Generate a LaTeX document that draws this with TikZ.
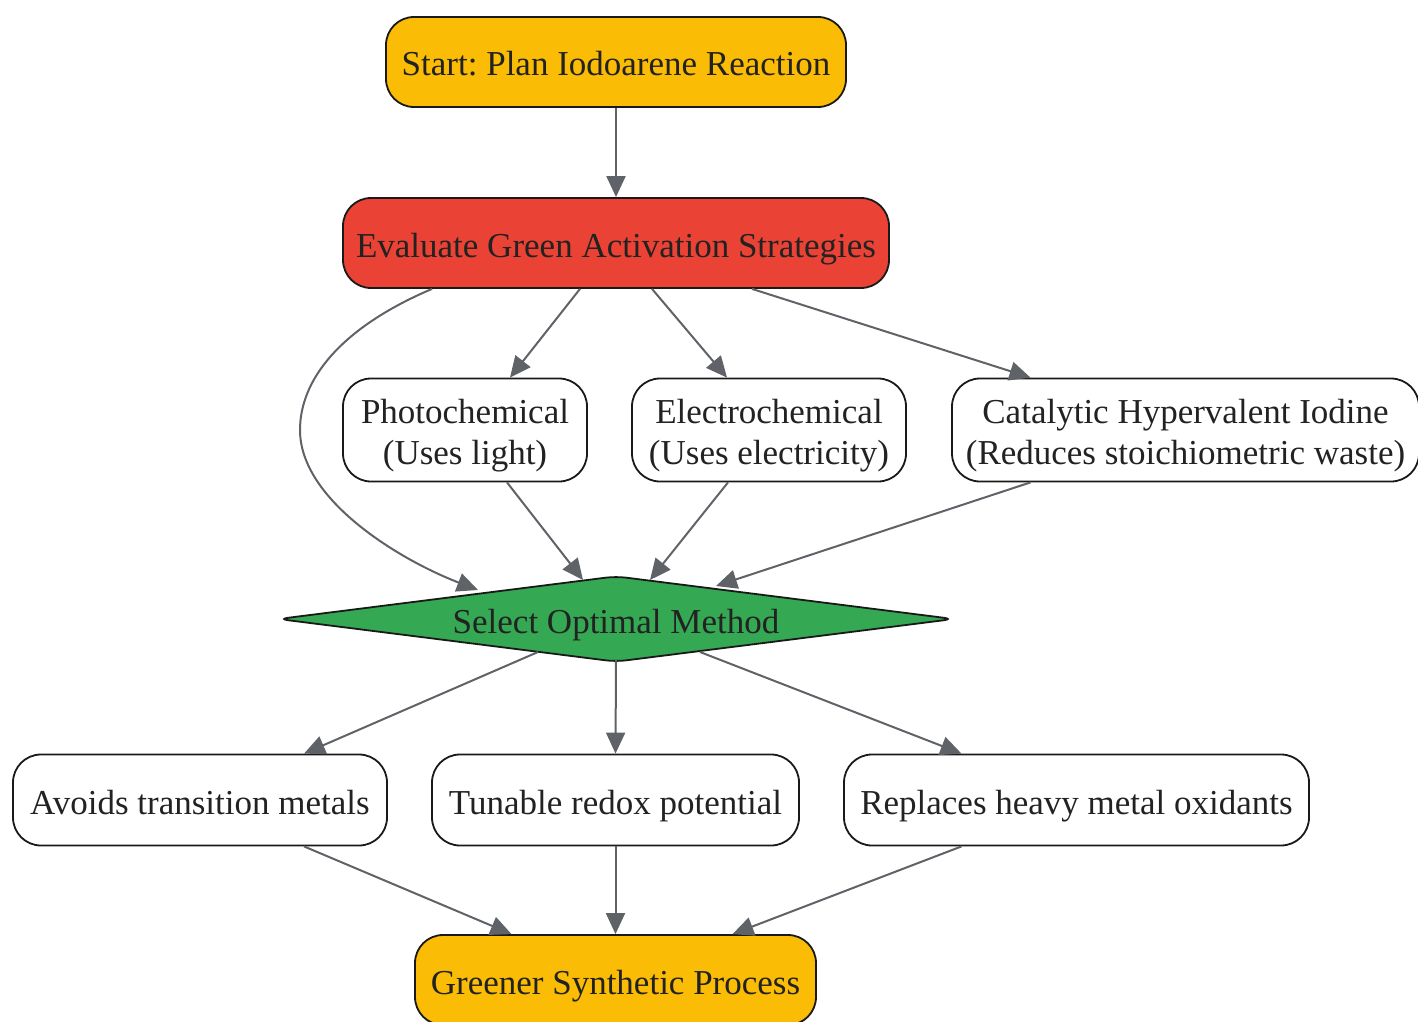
\documentclass[tikz,border=0pt]{standalone}
\usepackage{fontspec}
\setmainfont{Liberation Serif}
\usetikzlibrary{arrows.meta,shapes.geometric}
\definecolor{gyellow}{HTML}{FBBC05}
\definecolor{gred}{HTML}{EA4335}
\definecolor{ggreen}{HTML}{34A853}
\definecolor{egray}{HTML}{5F6368}
\definecolor{txt}{HTML}{222222}
\newcommand\topstr{\rule{0pt}{38pt}}
\newcommand\botstr{\rule[-10pt]{0pt}{10pt}}
\frenchspacing
\begin{document}
\begin{tikzpicture}[x=1pt,y=-1pt,
  box/.style={draw=black!90, line width=1.8pt, rounded corners=28pt, align=center, text=txt,
    font=\fontsize{35}{41}\selectfont, inner sep=0pt},
  edge/.style={draw=egray, line width=2pt, -{Triangle[length=21pt,width=19pt]}}]
\useasboundingbox (0,0) rectangle (1418,1022);
\node[box, fill=gyellow, minimum width=460pt, minimum height=90pt] (start) at (616,62) {\topstr Start: Plan Iodoarene Reaction\botstr};
\node[box, fill=gred, minimum width=546pt, minimum height=90pt] (eval) at (616,243) {\topstr Evaluate Green Activation Strategies\botstr};
\node[box, fill=white, minimum width=244pt, minimum height=103pt] (photo) at (465,430) {\topstr Photochemical\\(Uses light)\botstr};
\node[box, fill=white, minimum width=274pt, minimum height=103pt] (electro) at (769,430) {\topstr Electrochemical\\(Uses electricity)\botstr};
\node[box, fill=white, minimum width=467pt, minimum height=103pt] (cat) at (1185.5,430) {\topstr Catalytic Hypervalent Iodine\\(Reduces stoichiometric waste)\botstr};
\node[diamond, draw=black!90, line width=1.8pt, fill=ggreen, text=txt, font=\fontsize{35}{41}\selectfont,
  text height=28pt, text depth=0pt,
  minimum width=676pt, minimum height=86pt, inner sep=0pt, aspect=7.86, rounded corners=10pt] (diam) at (616,619) {Select Optimal Method};
\node[box, fill=white, minimum width=374pt, minimum height=91pt] (avoids) at (200,800) {\topstr Avoids transition metals\botstr};
\node[box, fill=white, minimum width=367pt, minimum height=91pt] (tunable) at (615.5,800) {\topstr Tunable redox potential\botstr};
\node[box, fill=white, minimum width=465pt, minimum height=91pt] (replaces) at (1076.5,800) {\topstr Replaces heavy metal oxidants\botstr};
\node[box, fill=gyellow, minimum width=401pt, minimum height=90pt] (greener) at (615.5,980) {\topstr Greener Synthetic Process\botstr};

\draw[edge] (start.south) -- (eval.north);
\draw[edge] ([xshift=-36pt]eval.south) -- ([xshift=45pt]photo.north);
\draw[edge] ([xshift=36pt]eval.south) -- ([xshift=-42pt]electro.north);
\draw[edge] ([xshift=136pt]eval.south) -- ([xshift=-155pt]cat.north);
\draw[edge] ([xshift=-184pt]eval.south) .. controls ([shift={(-276,85)}]eval.center) and ([shift={(-316,137)}]eval.center) .. ([shift={(-316,187)}]eval.center)
  .. controls ([shift={(-316,-119)}]diam.center) and ([shift={(-216,-59)}]diam.center) .. ([shift={(-138,-29)}]diam.center);
\draw[edge] ([xshift=42pt]photo.south) -- ([shift={(-33,-39)}]diam.center);
\draw[edge] ([xshift=-41pt]electro.south) -- ([shift={(34,-39)}]diam.center);
\draw[edge] ([xshift=-155pt]cat.south) -- ([shift={(100,-33)}]diam.center);
\draw[edge] ([shift={(-78,33)}]diam.center) -- ([xshift=104pt]avoids.north);
\draw[edge] ([yshift=3pt]diam.south) -- (tunable.north);
\draw[edge] ([shift={(84,33)}]diam.center) -- ([xshift=-115pt]replaces.north);
\draw[edge] ([xshift=104pt]avoids.south) -- ([xshift=-104pt]greener.north);
\draw[edge] (tunable.south) -- (greener.north);
\draw[edge] ([xshift=-115pt]replaces.south) -- ([xshift=117pt]greener.north);
\end{tikzpicture}
\end{document}
